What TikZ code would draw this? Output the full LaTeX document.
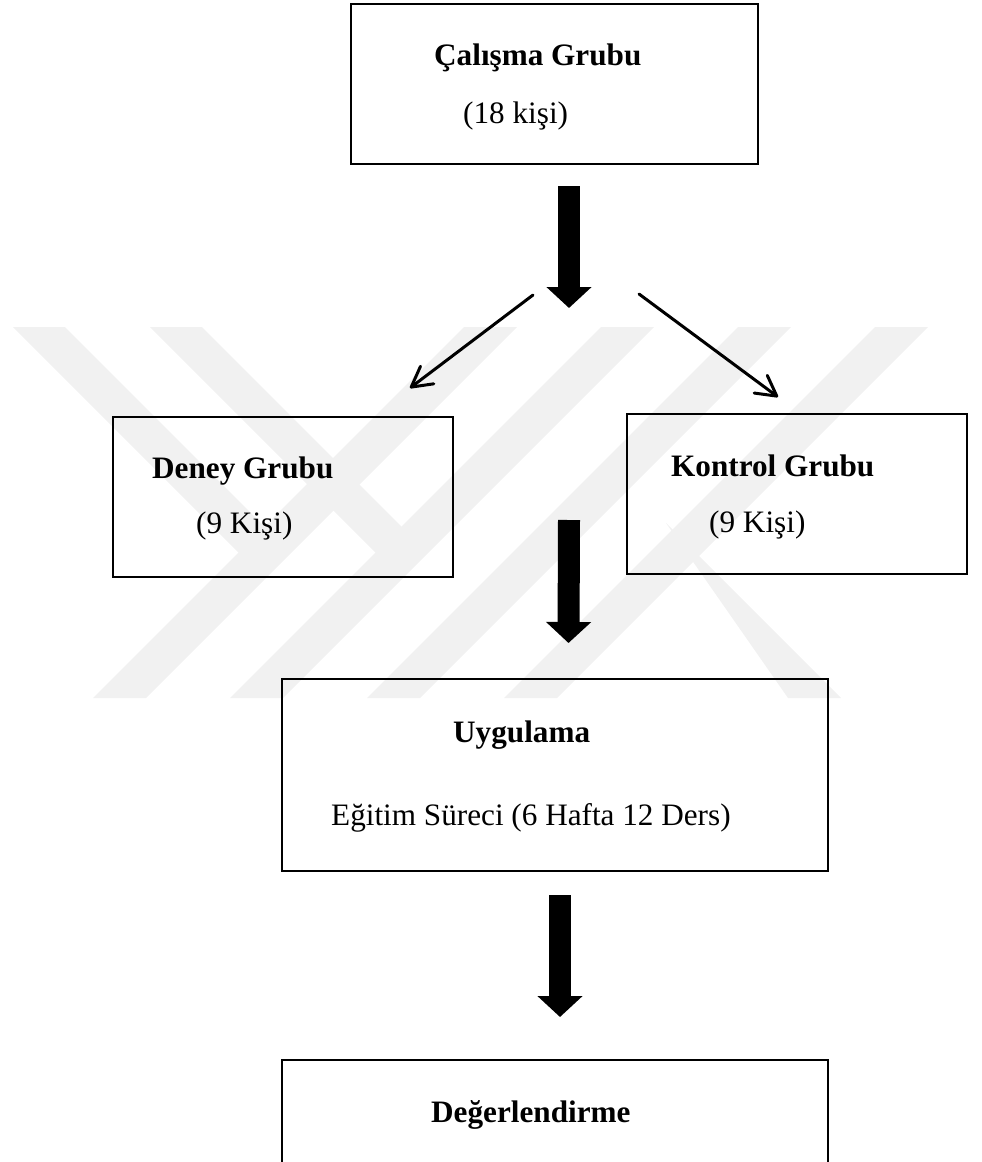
\documentclass[tikz,border=0pt]{standalone}
\usepackage{fontspec}
\setmainfont{Liberation Serif}
\usetikzlibrary{arrows.meta}
\definecolor{wm}{RGB}{241,241,241}
\tikzset{
  x=1pt, y=-1pt,
  box/.style={draw=black, line width=2pt, rectangle, inner sep=0pt},
  lbl/.style={anchor=base west, inner sep=0pt, font=\fontsize{31.2}{37}\selectfont},
  bold/.style={lbl, font=\fontsize{31.2}{37}\selectfont\bfseries},
  bigarrow/.style={line width=22pt, -{Triangle[length=21pt,width=44pt]}},
  thinarrow/.style={line width=3pt, line cap=round, -{Straight Barb[length=20pt,width=22pt,line join=round,line cap=round]}},
  wmark/.style={fill=wm, draw=none}
}
\begin{document}
\begin{tikzpicture}
\useasboundingbox (0,0) rectangle (982,1162);
\clip (0,0) rectangle (982,1162);
% watermark
\begin{scope}
\clip (0,327) rectangle (982,698);
\fill[wmark] (93,698) -- (146,698) -- (517,327) -- (464,327) -- cycle;
\fill[wmark] (230,698) -- (283,698) -- (654,327) -- (601,327) -- cycle;
\fill[wmark] (367,698) -- (420,698) -- (791,327) -- (738,327) -- cycle;
\fill[wmark] (504,698) -- (557,698) -- (928,327) -- (875,327) -- cycle;
\fill[wmark] (13,327) -- (65,327) -- (272,534) -- (246,560) -- cycle;
\fill[wmark] (150,327) -- (202,327) -- (408,533) -- (382,559) -- cycle;
\fill[wmark] (788,698) -- (841,698) -- (692,549) -- (666,523) -- cycle;
\end{scope}
% boxes
\node[box, minimum width=407pt, minimum height=160pt] (calisma) at (554.5,84) {};
\node[box, minimum width=340pt, minimum height=160pt] (deney) at (283,497) {};
\node[box, minimum width=340pt, minimum height=160pt] (kontrol) at (797,494) {};
\node[box, minimum width=546pt, minimum height=192pt] (uygulama) at (555,775) {};
\node[box, minimum width=546pt, minimum height=160pt] (deger) at (555,1140) {};
% labels
\node[bold] (t1) at (434,65) {Çalışma Grubu};
\node[lbl] (t2) at (463,123) {(18 kişi)};
\node[bold] (t3) at (152,478) {Deney Grubu};
\node[lbl] (t4) at (196,533) {(9 Kişi)};
\node[bold] (t5) at (671,476) {Kontrol Grubu};
\node[lbl] (t6) at (709,532) {(9 Kişi)};
\node[bold] (t7) at (453,742) {Uygulama};
\node[lbl] (t8) at (331,825) {Eğitim Süreci (6 Hafta 12 Ders)};
\node[bold] (t9) at (431,1122) {Değerlendirme};
% arrow coordinates
\coordinate (a1s) at (569,186);
\coordinate (a1e) at (569,308);
\coordinate (la) at (533,295);
\coordinate (le) at (410,388);
\coordinate (ra) at (639,294);
\coordinate (re) at (778,397);
\coordinate (a2s) at (569,520);
\coordinate (a2e) at (568.5,643);
\coordinate (a3s) at (560,895);
\coordinate (a3e) at (560,1017);
% arrows
\draw[bigarrow] (a1s) -- (a1e);
\draw[thinarrow] (la) -- (le);
\draw[thinarrow] (ra) -- (re);
\draw[bigarrow] (a2s) -- (a2e);
\draw[bigarrow] (a3s) -- (a3e);
\end{tikzpicture}
\end{document}
